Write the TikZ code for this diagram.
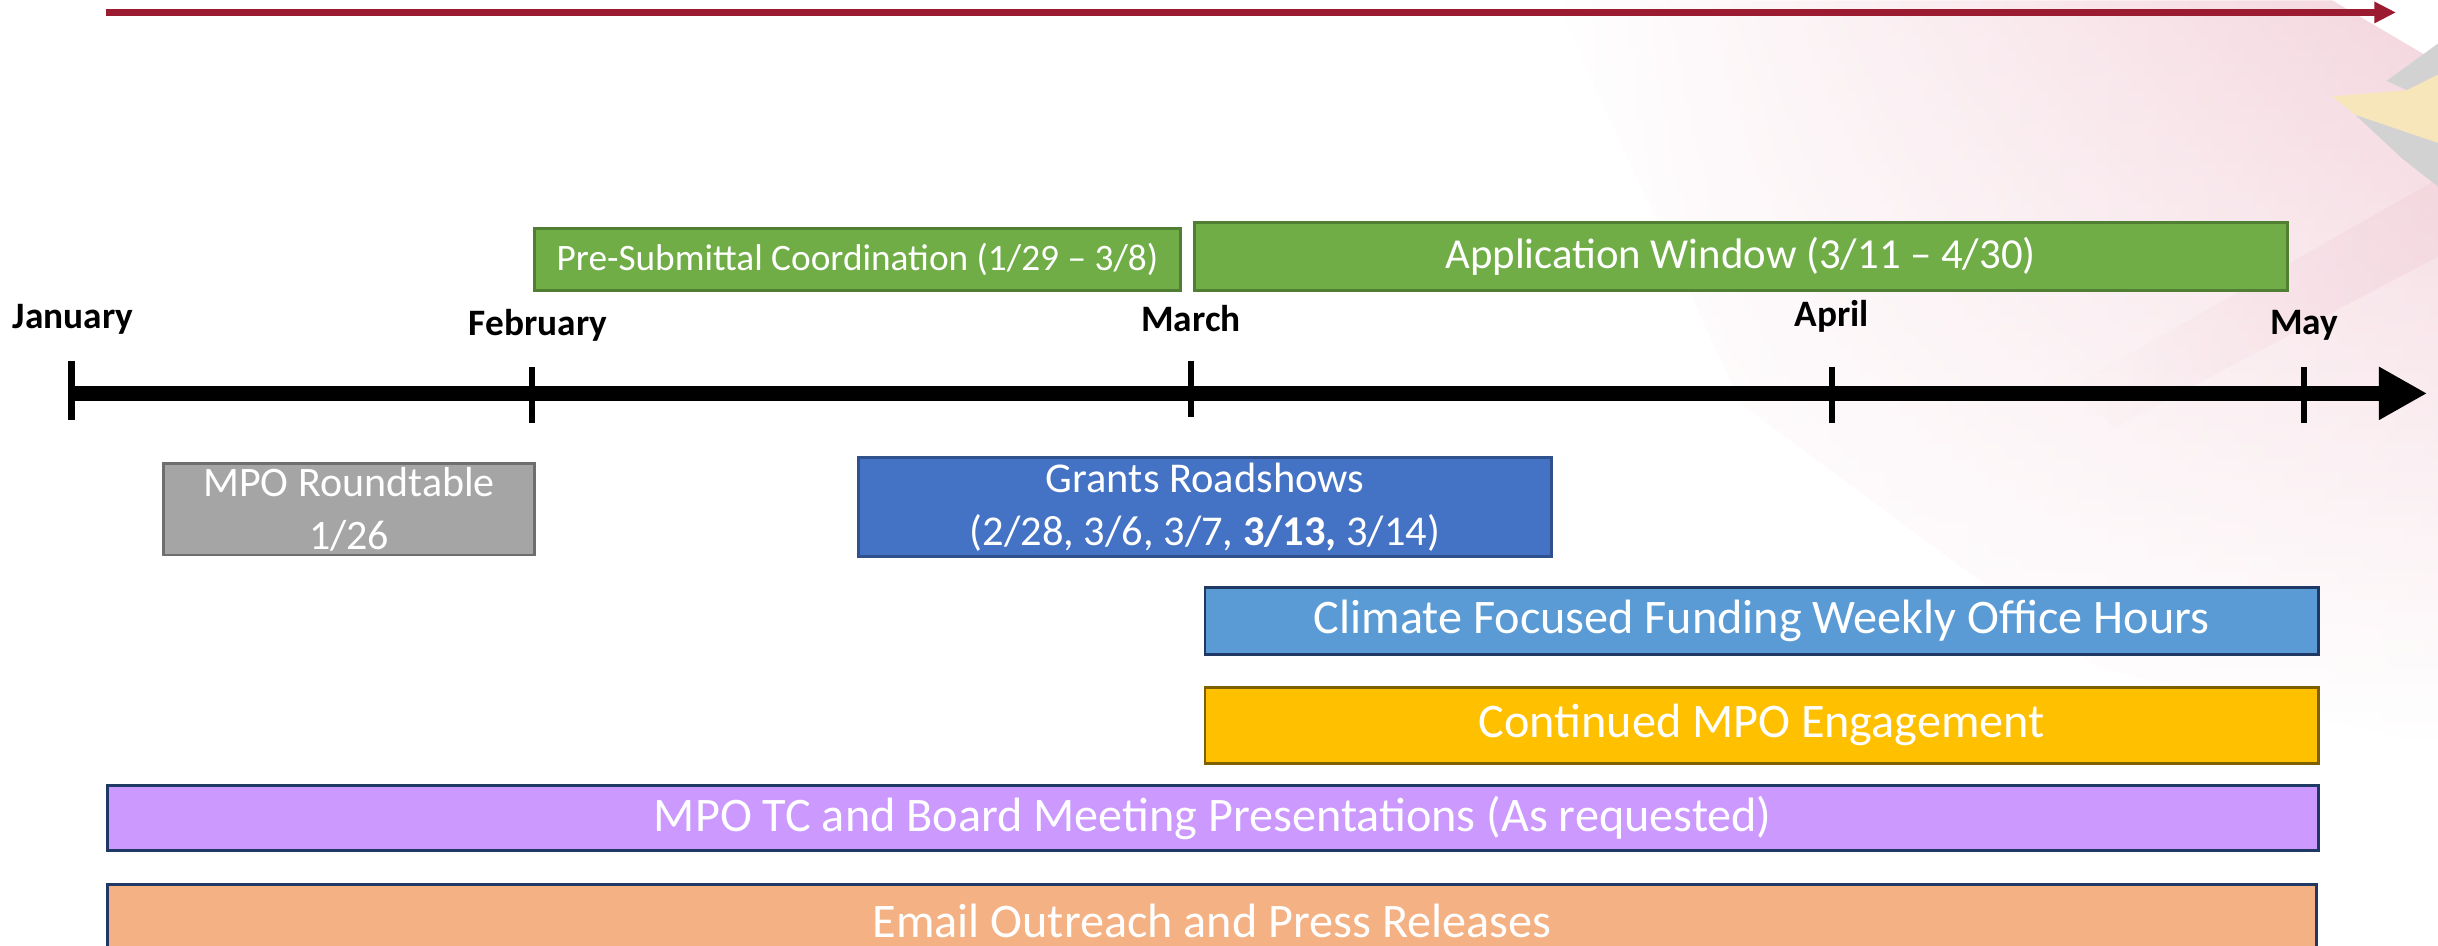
\documentclass[tikz,border=0pt]{standalone}
\usepackage{fontspec}
\setmainfont{Carlito}
\usetikzlibrary{arrows.meta, fadings}

\definecolor{flagRed}{RGB}{155,27,48}
\definecolor{washPink}{RGB}{240,202,212}
\definecolor{washYellow}{RGB}{246,230,186}
\definecolor{washGray}{RGB}{210,210,210}
\definecolor{barGreen}{RGB}{112,173,71}
\definecolor{edgeGreen}{RGB}{80,126,50}
\definecolor{barGray}{RGB}{165,165,165}
\definecolor{edgeGray}{RGB}{110,110,110}
\definecolor{barBlue}{RGB}{68,114,196}
\definecolor{edgeBlue}{RGB}{47,82,143}
\definecolor{barSky}{RGB}{91,155,213}
\definecolor{barGold}{RGB}{255,192,0}
\definecolor{edgeGold}{RGB}{127,96,0}
\definecolor{barLilac}{RGB}{204,153,255}
\definecolor{barPeach}{RGB}{244,177,131}
\definecolor{edgeNavy}{RGB}{31,56,100}

\tikzfading[name=washfade, left color=transparent!100, right color=transparent!20]

\tikzstyle{bar} = [rectangle, line width=1.8pt, text=white, align=center, inner sep=0pt, font=\fontsize{31}{36}\selectfont]
\tikzstyle{month} = [anchor=base, font=\bfseries\fontsize{24}{28}\selectfont]
\tikzstyle{tick} = [line width=4pt]
\tikzstyle{axis} = [line width=10pt, -{Triangle[length=31pt,width=32pt]}]
\tikzstyle{topline} = [draw=flagRed, line width=4pt, -{Triangle[length=14pt,width=13pt]}]

\begin{document}
\begin{tikzpicture}[x=1pt, y=-1pt]
    \useasboundingbox (0,0) rectangle (1568,608);
    % faded flag in the corner
    \shade[top color=washPink, bottom color=white, path fading=washfade] (1000,0) -- (1500,0) -- (1568,40) -- (1568,480) -- (1350,430) -- (1120,260) -- cycle;
    \fill[washPink, opacity=0.45, path fading=washfade] (1330,250) -- (1568,115) -- (1568,165) -- (1360,275) -- cycle;
    \fill[washGray] (1535,52) -- (1568,28) -- (1568,48) -- (1548,58) -- cycle;
    \fill[washYellow] (1500,62) -- (1548,58) -- (1568,48) -- (1568,92) -- (1515,74) -- cycle;
    \fill[washGray] (1515,74) -- (1568,92) -- (1568,120) -- (1545,102) -- cycle;

    \coordinate (topStart) at (68,8);
    \coordinate (topEnd) at (1541,8);
    \draw[topline] (topStart) -- (topEnd);

    \coordinate (axisStart) at (46,253);
    \coordinate (axisEnd) at (1561,253);
    \draw[axis] (axisStart) -- (axisEnd);

    \draw[tick] (46,232) -- (46,270);
    \draw[tick] (342,236) -- (342,272);
    \draw[tick] (766,232) -- (766,268);
    \draw[tick] (1178,236) -- (1178,272);
    \draw[tick] (1482,236) -- (1482,272);

    \node (jan) [month] at (47,211) {January};
    \node (feb) [month] at (346,216) {February};
    \node (mar) [month] at (766,213) {March};
    \node (apr) [month] at (1178,210) {April};
    \node (may) [month] at (1482,215) {May};

    \node (pre) [bar, fill=barGreen, draw=edgeGreen, minimum width=415pt, minimum height=40pt, font=\fontsize{24}{28}\selectfont] at (551.5,167) {Pre-Submittal Coordination (1/29 – 3/8)};
    \node (app) [bar, fill=barGreen, draw=edgeGreen, minimum width=703pt, minimum height=44pt, font=\fontsize{27.5}{32}\selectfont] at (1119.5,165) {Application Window (3/11 – 4/30)};
    \node (round) [bar, fill=barGray, draw=edgeGray, minimum width=239pt, minimum height=59pt, font=\fontsize{27}{34}\selectfont] at (224.5,327.5) {MPO Roundtable\\1/26};
    \node (road) [bar, fill=barBlue, draw=edgeBlue, minimum width=446pt, minimum height=64pt, font=\fontsize{27.3}{34}\selectfont] at (775,326) {Grants Roadshows\\(2/28, 3/6, 3/7, \textbf{3/13,} 3/14)};
    \node (hours) [bar, fill=barSky, draw=edgeNavy, minimum width=716pt, minimum height=43pt] at (1133,399.5) {Climate Focused Funding Weekly Office Hours};
    \node (mpo) [bar, fill=barGold, draw=edgeGold, minimum width=716pt, minimum height=49pt] at (1133,466.5) {Continued MPO Engagement};
    \node (board) [bar, fill=barLilac, draw=edgeNavy, minimum width=1422pt, minimum height=42pt] at (780,526) {MPO TC and Board Meeting Presentations (As requested)};
    \node (email) [bar, fill=barPeach, draw=edgeNavy, minimum width=1421pt, minimum height=46pt] at (779.5,592) {Email Outreach and Press Releases};
\end{tikzpicture}
\end{document}
